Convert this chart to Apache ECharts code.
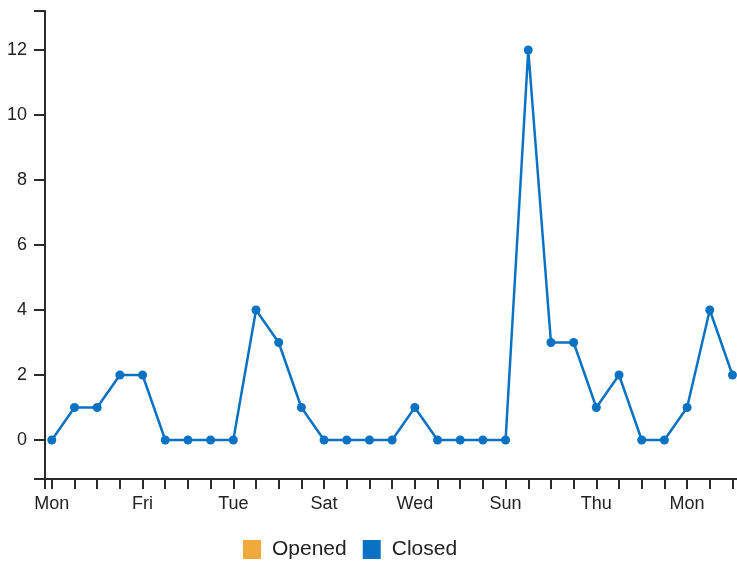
<!DOCTYPE html>
<html>
<head>
<meta charset="utf-8">
<script src="https://cdn.jsdelivr.net/npm/echarts@6/dist/echarts.min.js"></script>
<style>
  html, body { margin: 0; padding: 0; background: #fff; }
  #chart { width: 737px; height: 561px; }
</style>
</head>
<body>
<div id="chart"></div>
<script>
  // first day is a Mon, labels every 4 days
  var dayNames = ['Mon','Tue','Wed','Thu','Fri','Sat','Sun']
  // note: window.closed is read-only, so don't name it "closed"
  var closedCounts = [0,1,1,2,2,0,0,0,0,4,3,1,0,0,0,0,1,0,0,0,0,12,3,3,1,2,0,0,1,4,2]
  var openedCounts = []
  var yTickLabels = [0,2,4,6,8,10,12]
  var xLabelEvery = 4

  function dayName(i){
    return dayNames[i % 7]
  }

  var xLabelIdx = []
  for (var i = 0; i < closedCounts.length; i += xLabelEvery) xLabelIdx.push(i)
  var xTickIdx = [-0.3]
  for (var j = 0; j < closedCounts.length; j++) xTickIdx.push(j)

  var chart = echarts.init(document.getElementById('chart'))
  var option = {
    animation: false,
    textStyle: { fontFamily: 'Liberation Sans, Arial, sans-serif' },
    grid: { left: 45, right: 0, top: 11, bottom: 82 },
    legend: {
      top: 534,
      left: 238,
      itemWidth: 18,
      itemHeight: 19,
      itemGap: 16,
      icon: 'rect',
      textStyle: { fontSize: 21, color: '#222', padding: [0, 0, 0, 6] },
      data: ['Opened', 'Closed']
    },
    xAxis: {
      type: 'value',
      min: -0.3,
      max: 30.2,
      splitLine: { show: false },
      axisLine: { onZero: false, lineStyle: { color: '#2b2b2b', width: 2 } },
      axisTick: { show: true, length: 10, customValues: xTickIdx, lineStyle: { color: '#2b2b2b', width: 2 } },
      axisLabel: {
        customValues: xLabelIdx,
        margin: 16,
        fontSize: 18,
        color: '#222',
        formatter: function (v) { return dayName(Math.round(v)) }
      }
    },
    yAxis: {
      type: 'value',
      min: -1.2,
      max: 13.2,
      splitLine: { show: false },
      axisLine: { show: true, onZero: false, lineStyle: { color: '#2b2b2b', width: 2 } },
      axisTick: { show: true, length: 11, customValues: [-1.2].concat(yTickLabels, [13.2]), lineStyle: { color: '#2b2b2b', width: 2 } },
      axisLabel: { customValues: yTickLabels, margin: 18, fontSize: 18, color: '#222' }
    },
    series: [
      {
        name: 'Opened',
        type: 'line',
        color: '#F2A93B',
        data: openedCounts.map(function (v, i) { return [i, v] })
      },
      {
        name: 'Closed',
        type: 'line',
        color: '#0A72C2',
        symbol: 'circle',
        symbolSize: 9,
        lineStyle: { width: 2.5 },
        data: closedCounts.map(function (v, i) { return [i, v] })
      }
    ]
  }
  chart.setOption(option)
</script>
</body>
</html>
